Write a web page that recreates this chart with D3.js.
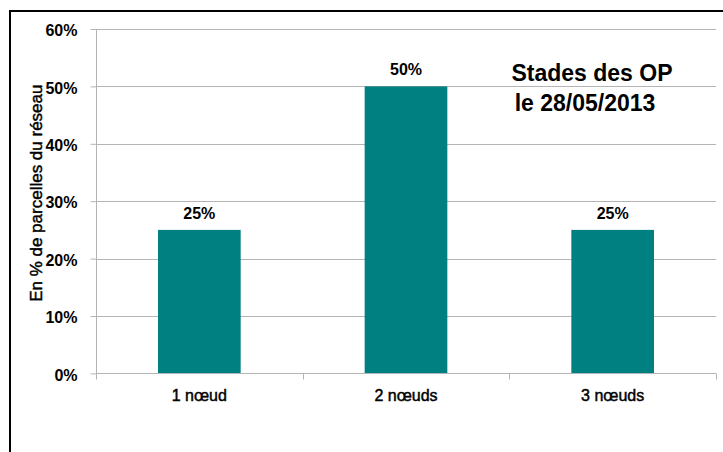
<!DOCTYPE html>
<html><head><meta charset="utf-8">
<script src="https://cdn.jsdelivr.net/npm/d3@7"></script>
<style>
html,body{margin:0;padding:0;background:#fff;}
svg{display:block;font-family:"Liberation Sans",Arial,sans-serif;}
</style></head>
<body>
<script>
const categories = ["1 nœud", "2 nœuds", "3 nœuds"];
const values = [0.25, 0.50, 0.25];
const yTicks = [0, 0.1, 0.2, 0.3, 0.4, 0.5, 0.6];
const titleLines = ["Stades des OP", "le 28/05/2013"];
const yAxisTitle = "En % de parcelles du réseau";

const W = 723, H = 452;
const svg = d3.select("body").append("svg").attr("width", W).attr("height", H);

// outer frame (only left and top visible)
svg.append("path").attr("d", `M10,${H} L10,11 L${W},11`)
  .attr("fill", "none").attr("stroke", "#000").attr("stroke-width", 2);

const plot = {l: 96, r: 716, t: 29, b: 373.4};
const y = d3.scaleLinear().domain([0, 0.6]).range([plot.b, plot.t]);
const x = d3.scaleBand().domain(categories).range([plot.l, plot.r])
  .paddingInner(0.6).paddingOuter(0.3);
const xb = d3.scaleBand().domain(categories).range([plot.l, plot.r]).padding(0);

const grid = "#b4b4b4";
// gridlines
svg.append("g").selectAll("line").data(yTicks.filter(d => d > 0)).join("line")
  .attr("x1", plot.l).attr("x2", plot.r)
  .attr("y1", d => Math.round(y(d)) + 0.5).attr("y2", d => Math.round(y(d)) + 0.5)
  .attr("stroke", grid).attr("stroke-width", 1);

// y axis
const yAxis = d3.axisLeft(y).tickValues(yTicks).tickFormat(d3.format(".0%")).tickSize(6).tickPadding(13);
const gy = svg.append("g").attr("transform", `translate(${plot.l + 0.5},0)`).call(yAxis);
gy.select(".domain").attr("stroke", grid).attr("d", `M0,${plot.b}V${plot.t}`);
gy.selectAll(".tick line").attr("stroke", grid);
gy.selectAll(".tick text").attr("fill", "#000").attr("font-size", 16).attr("font-weight", "bold")
  .attr("dy", "0.42em")
  .attr("font-family", "Liberation Sans, Arial, sans-serif");

// bars
svg.append("g").selectAll("rect").data(values).join("rect")
  .attr("x", (d, i) => x(categories[i])).attr("width", x.bandwidth())
  .attr("y", d => y(d)).attr("height", d => y(0) - y(d))
  .attr("fill", "#008080");

// x axis
const xAxis = d3.axisBottom(xb).tickSize(0).tickPadding(16);
const gx = svg.append("g").attr("transform", `translate(0,${Math.round(plot.b) + 0.5})`).call(xAxis);
gx.select(".domain").attr("stroke", grid).attr("d", `M${plot.l},0H${plot.r}`);
gx.selectAll(".tick text").attr("fill", "#000").attr("font-size", 16)
  .attr("stroke", "#000").attr("stroke-width", 0.45)
  .attr("font-family", "Liberation Sans, Arial, sans-serif");
// category boundary ticks
const bounds = categories.map(c => xb(c)).concat([plot.r]);
gx.append("g").selectAll("line").data(bounds).join("line")
  .attr("x1", d => Math.round(d) + 0.5).attr("x2", d => Math.round(d) + 0.5)
  .attr("y1", 0).attr("y2", 6).attr("stroke", grid);

// value labels
svg.append("g").selectAll("text").data(values).join("text")
  .attr("x", (d, i) => x(categories[i]) + x.bandwidth() / 2)
  .attr("y", d => y(d) - 11)
  .attr("text-anchor", "middle").attr("font-size", 16).attr("font-weight", "bold")
  .text(d => d3.format(".0%")(d));

// y axis title
svg.append("text").attr("transform", `translate(42,${(plot.t + plot.b) / 2 - 8}) rotate(-90)`)
  .attr("text-anchor", "middle").attr("font-size", 17)
  .attr("stroke", "#000").attr("stroke-width", 0.45).text(yAxisTitle);

// chart title
const tx = [592, 585];
svg.append("g").selectAll("text").data(titleLines).join("text")
  .attr("x", (d, i) => tx[i]).attr("y", (d, i) => 81 + i * 30)
  .attr("text-anchor", "middle").attr("font-size", 23).attr("font-weight", "bold")
  .text(d => d);
</script>
</body></html>
